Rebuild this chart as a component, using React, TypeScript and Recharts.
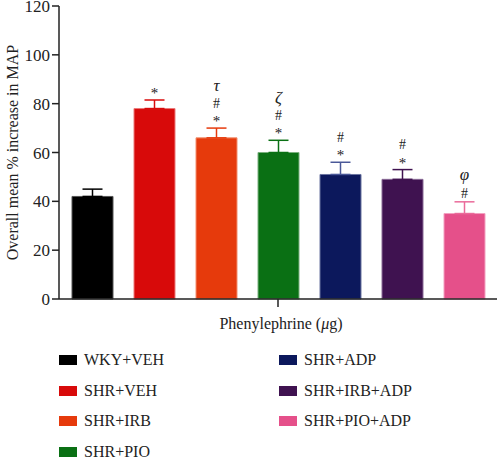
import React from 'react';
import { BarChart, Bar, XAxis, YAxis, ErrorBar, Legend, LabelList } from 'recharts';

const groups = ['WKY+VEH', 'SHR+VEH', 'SHR+IRB', 'SHR+PIO', 'SHR+ADP', 'SHR+IRB+ADP', 'SHR+PIO+ADP'];
const means = [42, 78, 66, 60, 51, 49, 35];
const errors = [3, 3.5, 4, 5, 5, 4, 4.8];
const annotations: string[][] = [[], ['*'], ['*', '#', 'τ'], ['*', '#', 'ζ'], ['*', '#'], ['*', '#'], ['#', 'φ']];
const colors = ['#000000', '#d80a0a', '#e63a0c', '#0a7014', '#0c185c', '#3f1250', '#e5508a'];
const edgeColors = ['#555555', '#ec7a7a', '#f29070', '#7ab07e', '#6a74a0', '#8a6a96', '#f3a0c0'];
const errColors = ['#000000', '#d80a0a', '#e63a0c', '#0a7014', '#4a5898', '#3f1250', '#ea6a9a'];
const yTicks = [0, 20, 40, 60, 80, 100, 120];
const category = 'Phenylephrine';

const row: Record<string, any> = { name: category };
groups.forEach((g, i) => {
  row[`s${i}`] = means[i];
  row[`e${i}`] = [0, errors[i]];
});
const data = [row];

const FONT = '"Liberation Serif", "Times New Roman", serif';

const glyphOffset = (g: string) => (g === '*' ? 7 : g === '#' ? 4.7 : 3.5);

const makeLabel = (i: number) => (props: any) => {
  const x = Number(props.x);
  const y = Number(props.y);
  const w = Number(props.width);
  const h = Number(props.height);
  const v = Number(props.value);
  const ppu = h / v;
  const top = y - errors[i] * ppu;
  const marks = annotations[i];
  return (
    <g>
      {marks.map((m, k) => {
        const greek = m !== '*' && m !== '#';
        return (
          <text
            key={k}
            x={x + w / 2}
            y={top - 9 - k * 16 + glyphOffset(m)}
            textAnchor="middle"
            fontFamily={FONT}
            fontSize={greek ? 17 : m === '*' ? 15 : 14}
            fontStyle={greek ? 'italic' : 'normal'}
            fill="#222"
          >
            {m}
          </text>
        );
      })}
    </g>
  );
};

const renderLegend = () => (
  <div
    style={{
      height: 128,
      boxSizing: 'border-box',
      paddingTop: 14,
      paddingLeft: 59,
      display: 'grid',
      gridTemplateColumns: '220px 220px',
      gridTemplateRows: 'repeat(4, 30.5px)',
      gridAutoFlow: 'column',
      fontFamily: FONT,
      fontSize: 16,
      color: '#222',
      overflow: 'visible',
    }}
  >
    {groups.map((g, i) => (
      <div key={g} style={{ display: 'flex', alignItems: 'center', height: 30.5 }}>
        <span style={{ display: 'inline-block', width: 18, height: 10, background: colors[i], marginRight: 7 }} />
        <span>{g}</span>
      </div>
    ))}
  </div>
);

export default function App() {
  return (
    <div style={{ position: 'absolute', left: 0, top: 0, background: '#fff' }}>
      <BarChart
        width={497}
        height={459}
        data={data}
        margin={{ top: 6, right: 0, left: 0, bottom: 0 }}
        barCategoryGap={12}
        barGap={21}
      >
        <XAxis
          dataKey="name"
          height={32}
          tickSize={8}
          tickFormatter={() => ''}
          axisLine={{ stroke: '#222', strokeWidth: 1.5 }}
          tickLine={{ stroke: '#222', strokeWidth: 1.5 }}
          label={{
            content: (p: any) => {
              const vb = p.viewBox || {};
              const cx = Number(vb.x) + Number(vb.width) / 2 + 3;
              return (
                <text x={cx} y={323} textAnchor="middle" dominantBaseline="central" fontFamily={FONT} fontSize={16} fill="#222">
                  Phenylephrine (<tspan fontStyle="italic">μ</tspan>g)
                </text>
              );
            },
          }}
        />
        <YAxis
          width={59}
          domain={[0, 120]}
          ticks={yTicks}
          interval={0}
          tickSize={7}
          axisLine={{ stroke: '#222', strokeWidth: 1.5 }}
          tickLine={{ stroke: '#222', strokeWidth: 1.5 }}
          tick={{ fontFamily: FONT, fontSize: 17, fill: '#222' }}
          label={{
            content: (p: any) => {
              const vb = p.viewBox || {};
              const cy = Number(vb.y) + Number(vb.height) / 2;
              return (
                <text
                  x={12}
                  y={cy}
                  transform={`rotate(-90 12 ${cy})`}
                  textAnchor="middle"
                  dominantBaseline="central"
                  fontFamily={FONT}
                  fontSize={16}
                  fill="#222"
                >
                  Overall mean % increase in MAP
                </text>
              );
            },
          }}
        />
        <Legend verticalAlign="bottom" content={renderLegend} />
        {groups.map((g, i) => (
          <Bar
            key={g}
            dataKey={`s${i}`}
            name={g}
            fill={colors[i]}
            stroke={edgeColors[i]}
            strokeWidth={1}
            barSize={41}
            isAnimationActive={false}
          >
            <ErrorBar dataKey={`e${i}`} width={10} stroke={errColors[i]} strokeWidth={1.5} />
            <LabelList dataKey={`s${i}`} content={makeLabel(i)} />
          </Bar>
        ))}
      </BarChart>
    </div>
  );
}
